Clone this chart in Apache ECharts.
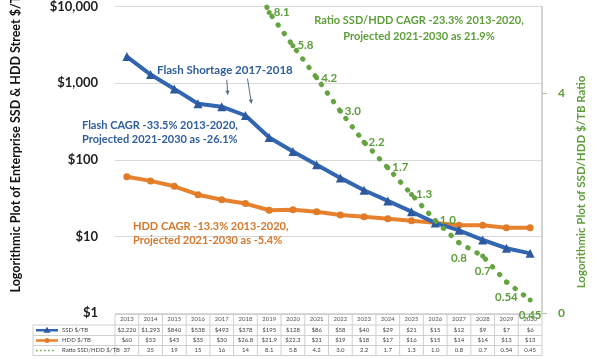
<!DOCTYPE html>
<html><head><meta charset="utf-8">
<script src="https://cdn.jsdelivr.net/npm/echarts/dist/echarts.min.js"></script>
<style>html,body{margin:0;padding:0;background:#fff}#c{width:600px;height:359px}</style>
</head><body><div id="c"></div>
<script>
const years = ['2013','2014','2015','2016','2017','2018','2019','2020','2021','2022','2023','2024','2025','2026','2027','2028','2029','2030'];
const ssd = [2220,1293,840,538,493,378,195,128,86,58,40,29,21,15,12,9,7,6];
const hdd = [60,53,45,35,30,26.8,21.9,22.3,21,19,18,17,16,15,14,14,13,13];
const ratio = [37,25,19,15,16,14,8.1,5.8,4.2,3.0,2.2,1.7,1.3,1.0,0.8,0.7,0.54,0.45];
const rowNames = ['SSD $/TB','HDD $/TB','Ratio SSD/HDD $/TB'];
const leftTitle = 'Logorithmic Plot of Enterprise SSD & HDD Street $/TB';
const rightTitle = 'Logorithmic Plot of SSD/HDD $/TB Ratio';
const noteShortage = 'Flash Shortage 2017-2018';
const noteFlash = 'Flash CAGR -33.5% 2013-2020,\nProjected 2021-2030 as -26.1%';
const noteHdd = 'HDD CAGR -13.3% 2013-2020,\nProjected 2021-2030 as -5.4%';
const noteRatio = 'Ratio SSD/HDD CAGR -23.3% 2013-2020,\nProjected 2021-2030 as 21.9%';

const FONT = 'Lato, "Open Sans", sans-serif';
const BLUE = '#3366B0', ORANGE = '#E8812E', GREEN = '#66A443', GREEN_T = '#5E9E3A';
const RATIO_MAX = 8.6, RATIO_MIN = 0.395;

function money(v){ return '$' + v.toLocaleString('en-US'); }
function rfmt(v){ if (v >= 10) return String(v); return (Math.round(v*10) === v*10) ? v.toFixed(1) : v.toFixed(2); }

const chart = echarts.init(document.getElementById('c'), null, {renderer:'canvas'});
const option = {
  animation:false,
  backgroundColor:'#fff',
  textStyle:{fontFamily:FONT},
  grid:{left:115, right:58, top:6, bottom:46},
  xAxis:{type:'category', data:years, boundaryGap:true,
    axisLine:{show:false}, axisTick:{show:false},
    axisLabel:{fontSize:6, color:'#555', margin:3, fontFamily:FONT}},
  yAxis:[
    {type:'log', logBase:10, min:1, max:10000,
     axisLine:{show:false}, axisTick:{show:false},
     splitLine:{lineStyle:{color:'#d9d9d9', width:1}},
     axisLabel:{formatter:money, fontSize:13, fontWeight:'bold', color:'#222', margin:17, fontFamily:FONT}},
    {type:'value', position:'right', min:0, max:5.58, interval:4,
     axisLine:{show:true, lineStyle:{color:'#c4c9c0', width:1.5}},
     axisTick:{show:true, length:5, lineStyle:{color:'#bbb'}},
     splitLine:{show:false},
     axisLabel:{showMaxLabel:false, fontSize:12, fontWeight:'bold', color:GREEN_T, margin:16, fontFamily:FONT}},
    {type:'log', logBase:10, position:'right', min:RATIO_MIN, max:RATIO_MAX, show:false, splitLine:{show:false}}
  ],
  series:[
    {name:rowNames[0], type:'line', data:ssd, yAxisIndex:0, z:4,
     symbol:'triangle', symbolSize:9, lineStyle:{color:BLUE, width:4}, itemStyle:{color:'#2D5A9E'}},
    {name:rowNames[1], type:'line', data:hdd, yAxisIndex:0, z:3,
     symbol:'circle', symbolSize:7, lineStyle:{color:ORANGE, width:4}, itemStyle:{color:'#E07B28'}},
    {name:rowNames[2], type:'line', data:ratio.map(v=>({value:v, label:{position: v>=1?'right':'bottom', distance: v>=1?2:7}})),
     yAxisIndex:2, z:5, clip:true,
     symbol:'circle', symbolSize:5, itemStyle:{color:GREEN},
     lineStyle:{color:GREEN, width:5, type:[0.5,10], cap:'round'},
     label:{show:true, fontSize:11.5, fontWeight:'bold', color:GREEN_T, fontFamily:FONT,
       formatter:p => p.value > RATIO_MAX ? '' : rfmt(p.value)}}
  ]
};
chart.setOption(option);

function build(){
  const g = [];
  const cx = years.map((y,i)=>chart.convertToPixel({xAxisIndex:0}, i));
  const cw = cx[1]-cx[0];
  const tL = 33, tR = cx[cx.length-1]+cw/2, c0 = cx[0]-cw/2;
  const rowsY = [314.5, 325, 335.5, 345.5, 355.5];
  const lineC = '#cfcfcf';
  g.push({type:'line', shape:{x1:c0, y1:rowsY[0], x2:tR, y2:rowsY[0]}, style:{stroke:lineC, lineWidth:1}});
  for (let r=1;r<rowsY.length;r++) g.push({type:'line', shape:{x1:tL, y1:rowsY[r], x2:tR, y2:rowsY[r]}, style:{stroke:lineC, lineWidth:1}});
  g.push({type:'line', shape:{x1:tL, y1:rowsY[1], x2:tL, y2:rowsY[4]}, style:{stroke:lineC, lineWidth:1}});
  for (let i=0;i<=years.length;i++){ const x = c0 + i*cw; g.push({type:'line', shape:{x1:x, y1:rowsY[0], x2:x, y2:rowsY[4]}, style:{stroke:lineC, lineWidth:1}}); }
  const rows = [ssd.map(money), hdd.map(money), ratio.map(rfmt)];
  rows.forEach((row,r)=>{
    const yc = (rowsY[r+1]+rowsY[r+2])/2;
    row.forEach((t,i)=>g.push({type:'text', x:cx[i], y:yc, style:{text:t, fill:'#444', fontSize:6, fontFamily:FONT, align:'center', verticalAlign:'middle'}}));
    g.push({type:'text', x:62, y:yc, style:{text:rowNames[r], fill:'#444', fontSize:6, fontFamily:FONT, align:'left', verticalAlign:'middle'}});
  });
  const y1 = (rowsY[1]+rowsY[2])/2, y2 = (rowsY[2]+rowsY[3])/2, y3 = (rowsY[3]+rowsY[4])/2;
  g.push({type:'line', shape:{x1:36, y1:y1, x2:58, y2:y1}, style:{stroke:BLUE, lineWidth:2.5}});
  g.push({type:'polygon', shape:{points:[[47,y1-3.5],[50.5,y1+2.5],[43.5,y1+2.5]]}, style:{fill:'#2D5A9E'}});
  g.push({type:'line', shape:{x1:36, y1:y2, x2:58, y2:y2}, style:{stroke:ORANGE, lineWidth:2.5}});
  g.push({type:'circle', shape:{cx:47, cy:y2, r:2.5}, style:{fill:'#E07B28'}});
  g.push({type:'line', shape:{x1:36, y1:y3, x2:56, y2:y3}, style:{stroke:GREEN, lineWidth:1.5, lineDash:[1.5,2.5]}});
  g.push({type:'text', x:16, y:140, rotation:Math.PI/2, style:{text:leftTitle, fill:'#111', fontSize:12.5, fontWeight:'bold', fontFamily:FONT, align:'center', verticalAlign:'middle'}});
  g.push({type:'text', x:581, y:182, rotation:Math.PI/2, style:{text:rightTitle, fill:GREEN_T, fontSize:11.5, fontWeight:'bold', fontFamily:FONT, align:'center', verticalAlign:'middle'}});
  g.push({type:'text', x:157, y:70, style:{text:noteShortage, fill:'#2F5E9E', fontSize:11.5, fontWeight:'bold', fontFamily:FONT, align:'left', verticalAlign:'middle'}});
  g.push({type:'text', x:82, y:118, style:{text:noteFlash, fill:'#2F5E9E', fontSize:11, fontWeight:'bold', fontFamily:FONT, align:'left', verticalAlign:'top', lineHeight:14}});
  g.push({type:'text', x:133, y:219, style:{text:noteHdd, fill:'#D4782C', fontSize:11, fontWeight:'bold', fontFamily:FONT, align:'left', verticalAlign:'top', lineHeight:14}});
  g.push({type:'text', x:419, y:12, style:{text:noteRatio, fill:GREEN_T, fontSize:11, fontWeight:'bold', fontFamily:FONT, align:'center', verticalAlign:'top', lineHeight:16}});
  [[4,[-1,-15]],[5,[-4,-25]]].forEach(([i,d])=>{
    const p = chart.convertToPixel({xAxisIndex:0, yAxisIndex:0}, [i, ssd[i]]);
    const tx = p[0]+6, ty = p[1]-12, sx = tx+d[0], sy = ty+d[1];
    g.push({type:'line', shape:{x1:sx, y1:sy, x2:tx, y2:ty}, style:{stroke:'#5b6b80', lineWidth:1}});
    const ang = Math.atan2(ty-sy, tx-sx), L=4, W=2.2;
    const bx = tx - L*Math.cos(ang), by = ty - L*Math.sin(ang);
    g.push({type:'polygon', shape:{points:[[tx,ty],[bx+W*Math.sin(ang), by-W*Math.cos(ang)],[bx-W*Math.sin(ang), by+W*Math.cos(ang)]]}, style:{fill:'#5b6b80'}});
  });
  chart.setOption({graphic:g});
}
build();
</script></body></html>
